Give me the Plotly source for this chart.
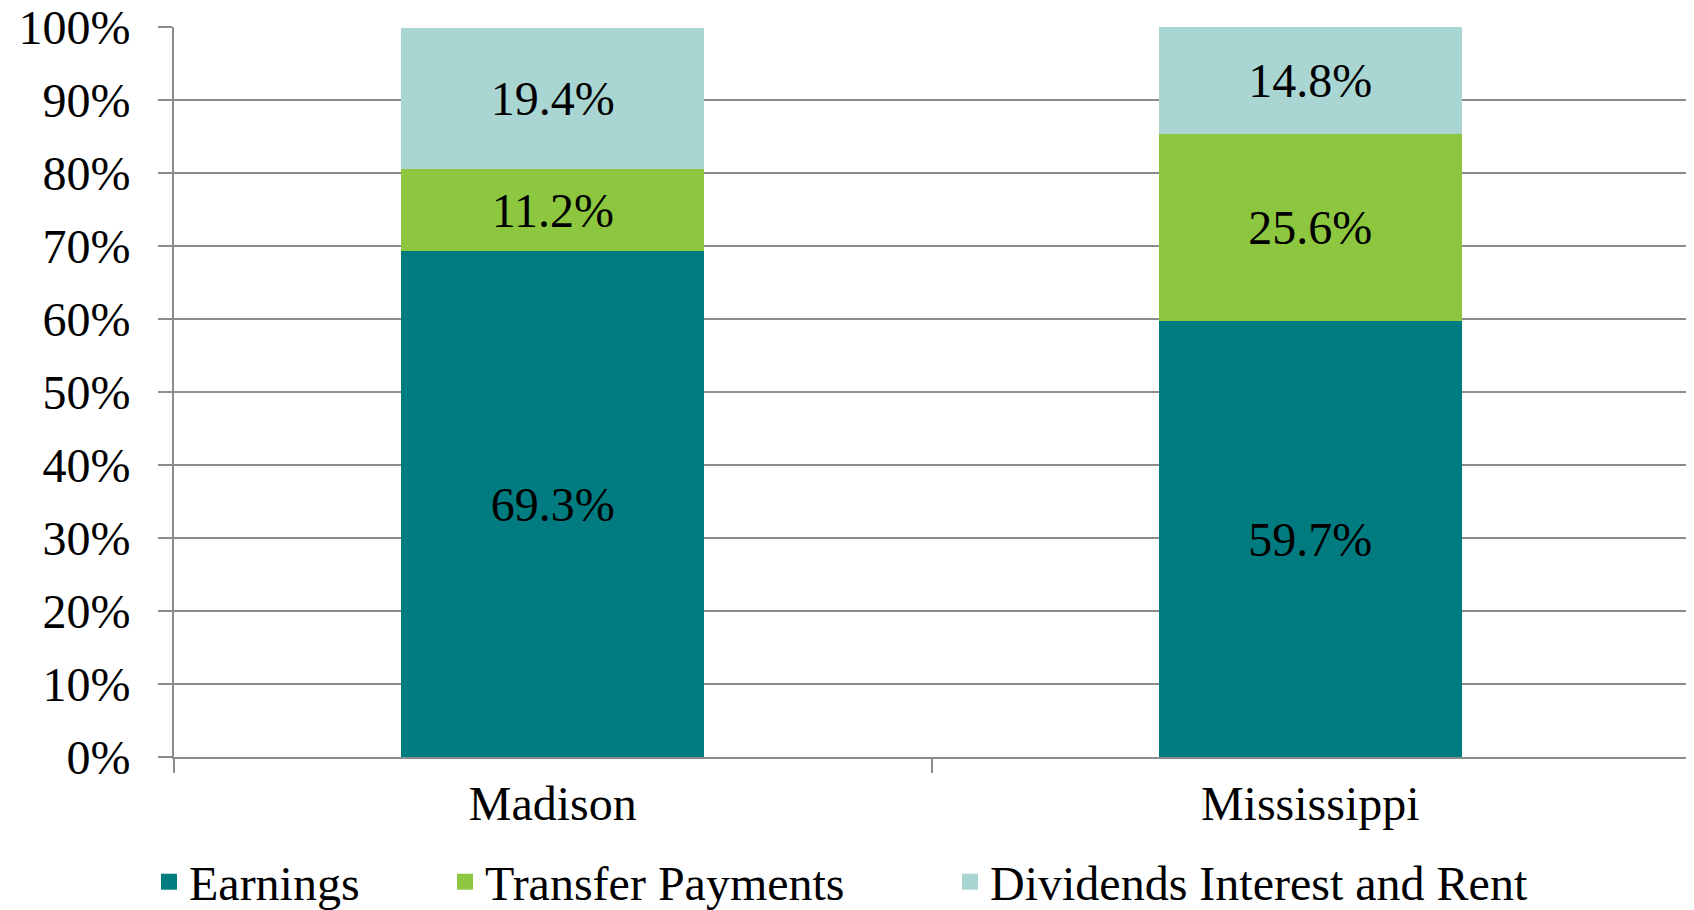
import plotly.graph_objects as go

categories = ["Madison", "Mississippi"]
earnings = [69.3, 59.7]
transfer = [11.2, 25.6]
dividends = [19.4, 14.8]
series_names = ["Earnings", "Transfer Payments", "Dividends Interest and Rent"]
colors = ["#007C80", "#8DC63F", "#A9D6D2"]

FONT = "Liberation Serif"
FS = 48
W, H = 1686, 910
fig = go.Figure()
for name, vals, col in zip(series_names, [earnings, transfer, dividends], colors):
    fig.add_trace(go.Bar(
        x=categories, y=vals, name=name, marker=dict(color=col, line=dict(width=0)),
        text=[f"{v:.1f}%" for v in vals], textposition="inside",
        insidetextanchor="middle", textangle=0,
        textfont=dict(family=FONT, size=FS, color="black"),
        showlegend=False,
    ))

# legend entries (square swatches), one legend per entry for exact placement
legend_names = ["legend", "legend2", "legend3"]
legend_x_px = [141, 437, 942]
for name, col, lg in zip(series_names, colors, legend_names):
    fig.add_trace(go.Scatter(
        x=[None], y=[None], mode="markers", name=name, legend=lg,
        marker=dict(symbol="square", size=22, color=col),
        showlegend=True,
    ))

layout_legends = {}
for lg, xp in zip(legend_names, legend_x_px):
    layout_legends[lg] = dict(
        orientation="h", xref="container", yref="container",
        x=xp / W, xanchor="left", y=(H - 874) / H, yanchor="middle",
        font=dict(family=FONT, size=FS, color="black"),
        itemwidth=30, bgcolor="rgba(0,0,0,0)",
    )

fig.update_layout(
    barmode="stack", bargap=0.6,
    width=W, height=H,
    margin=dict(l=166, r=5, t=19, b=H - 749, autoexpand=False),
    paper_bgcolor="white", plot_bgcolor="white",
    font=dict(family=FONT, size=FS, color="black"),
    showlegend=True,
    **layout_legends,
)
fig.update_yaxes(range=[0, 100], dtick=10, ticksuffix="%", showgrid=True,
                 gridcolor="#8C8C8C", gridwidth=2, showline=True, linecolor="#8C8C8C",
                 linewidth=2, ticks="outside", ticklen=14, tickcolor="#8C8C8C", tickwidth=2,
                 ticklabelstandoff=18, zeroline=False, automargin=False,
                 ticklabeloverflow="allow",
                 tickfont=dict(family=FONT, size=FS, color="black"))
fig.update_xaxes(showline=True, linecolor="#8C8C8C", linewidth=2, ticks="outside",
                 tickson="boundaries", ticklen=14, tickcolor="#8C8C8C", tickwidth=2,
                 ticklabelstandoff=3, automargin=False, ticklabeloverflow="allow",
                 tickfont=dict(family=FONT, size=FS, color="black"))

fig.write_html("out.html")
